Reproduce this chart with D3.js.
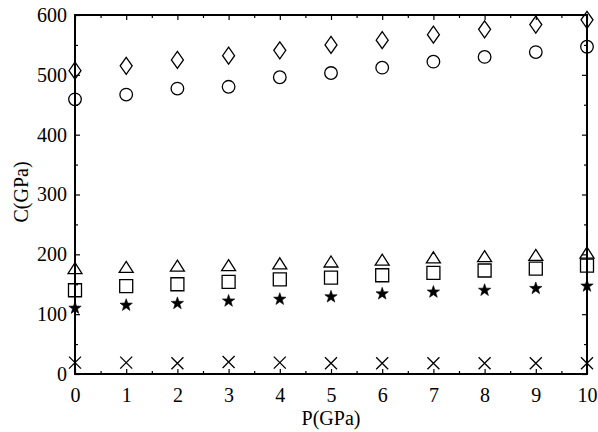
<!DOCTYPE html>
<html>
<head>
<meta charset="utf-8">
<script src="https://cdn.jsdelivr.net/npm/d3@7"></script>
<style>
  body { margin: 0; background: #fff; }
  svg { display: block; }
  text { font-family: "Liberation Serif", "DejaVu Serif", serif; fill: #000; }
</style>
</head>
<body>
<svg id="chart" width="598" height="432"></svg>
<script>
// data
const pressure = [0, 1, 2, 3, 4, 5, 6, 7, 8, 9, 10]
const diamondVals = [507, 515, 525, 532, 541, 550, 558, 567, 576, 584, 592]
const circleVals = [459, 467, 477, 480, 496, 503, 512, 522, 530, 538, 547]
const triangleVals = [177, 179, 181, 182, 185, 188, 191, 195, 197, 199, 203]
const squareVals = [140, 147, 150, 154, 158, 161, 165, 169, 173, 176, 181]
const starVals = [110, 115, 118, 122, 125, 129, 134, 137, 140, 143, 147]
const crossVals = [19, 19, 18, 20, 19, 18, 18, 18, 18, 18, 18]

const xTicks = [0, 1, 2, 3, 4, 5, 6, 7, 8, 9, 10]
const yTicks = [0, 100, 200, 300, 400, 500, 600]

const svg = d3.select("#chart")
const plotLeft = 75, plotRight = 587, plotTop = 15, plotBottom = 374

const x = d3.scaleLinear().domain([0, 10]).range([plotLeft, plotRight])
const y = d3.scaleLinear().domain([0, 600]).range([plotBottom, plotTop])

// marker shapes, centred at 0,0
const shapes = {
    diamond: "M0,-8.5L6,0L0,8.5L-6,0Z",
    triangle: "M0,-5.5L7,5.5L-7,5.5Z",
    square: "M-6.5,-6.5H6.5V6.5H-6.5Z",
    cross: "M-6,-6L6,6M-6,6L6,-6",
    star: (() => {
        let pts = []
        for (let i = 0; i < 10; i++) {
            const r = i % 2 === 0 ? 6.5 : 2.6
            const a = -Math.PI / 2 + i * Math.PI / 5
            pts.push([r * Math.cos(a), r * Math.sin(a)])
        }
        return "M" + pts.map(p => p.join(",")).join("L") + "Z"
    })()
}

const series = [
    { vals: diamondVals, shape: "diamond" },
    { vals: circleVals, shape: "circle" },
    { vals: triangleVals, shape: "triangle" },
    { vals: squareVals, shape: "square" },
    { vals: starVals, shape: "star" },
    { vals: crossVals, shape: "cross" }
]

const marks = svg.append("g")
series.forEach(s => {
    const g = marks.append("g")
    pressure.forEach((p, i) => {
        const cx = x(p), cy = y(s.vals[i])
        if (s.shape === "circle") {
            g.append("circle").attr("cx", cx).attr("cy", cy).attr("r", 6.3)
                .attr("fill", "none").attr("stroke", "#000").attr("stroke-width", 1.3)
        } else {
            g.append("path").attr("d", shapes[s.shape])
                .attr("transform", `translate(${cx},${cy})`)
                .attr("fill", s.shape === "star" ? "#000" : "none")
                .attr("stroke", "#000").attr("stroke-width", s.shape === "star" ? 0.6 : 1.3)
        }
    })
})

// frame with inward ticks on all four sides
const xMinor = d3.range(0.5, 10, 1)
const yMinor = d3.range(50, 600, 100)

function addAxis(axis, tx, ty, showLabels) {
    const g = svg.append("g").attr("transform", `translate(${tx},${ty})`).call(axis)
    g.select(".domain").remove()
    g.selectAll("line").attr("stroke", "#000").attr("stroke-width", 1.2)
    if (!showLabels) g.selectAll("text").remove()
    return g
}

const major = 5, minor = 3
// bottom
const bx = addAxis(d3.axisBottom(x).tickValues(xTicks).tickSize(-major).tickPadding(major + 9), 0, plotBottom, true)
bx.selectAll("text").attr("font-size", 20).attr("font-family", "Liberation Serif, serif")
addAxis(d3.axisBottom(x).tickValues(xMinor).tickSize(-minor), 0, plotBottom, false)
// top
addAxis(d3.axisTop(x).tickValues(xTicks).tickSize(-major), 0, plotTop, false)
addAxis(d3.axisTop(x).tickValues(xMinor).tickSize(-minor), 0, plotTop, false)
// left
const ly = addAxis(d3.axisLeft(y).tickValues(yTicks).tickSize(-major).tickPadding(major + 3), plotLeft, 0, true)
ly.selectAll("text").attr("font-size", 20).attr("font-family", "Liberation Serif, serif")
addAxis(d3.axisLeft(y).tickValues(yMinor).tickSize(-minor), plotLeft, 0, false)
// right
addAxis(d3.axisRight(y).tickValues(yTicks).tickSize(-major), plotRight, 0, false)
addAxis(d3.axisRight(y).tickValues(yMinor).tickSize(-minor), plotRight, 0, false)

svg.append("rect")
    .attr("x", plotLeft).attr("y", plotTop)
    .attr("width", plotRight - plotLeft).attr("height", plotBottom - plotTop)
    .attr("fill", "none").attr("stroke", "#000").attr("stroke-width", 2)

// axis titles
svg.append("text")
    .attr("x", (plotLeft + plotRight) / 2).attr("y", 425)
    .attr("text-anchor", "middle").attr("font-size", 20)
    .text("P(GPa)")

svg.append("text")
    .attr("transform", `translate(28,192) rotate(-90)`)
    .attr("text-anchor", "middle").attr("font-size", 20)
    .text("C(GPa)")
</script>
</body>
</html>
